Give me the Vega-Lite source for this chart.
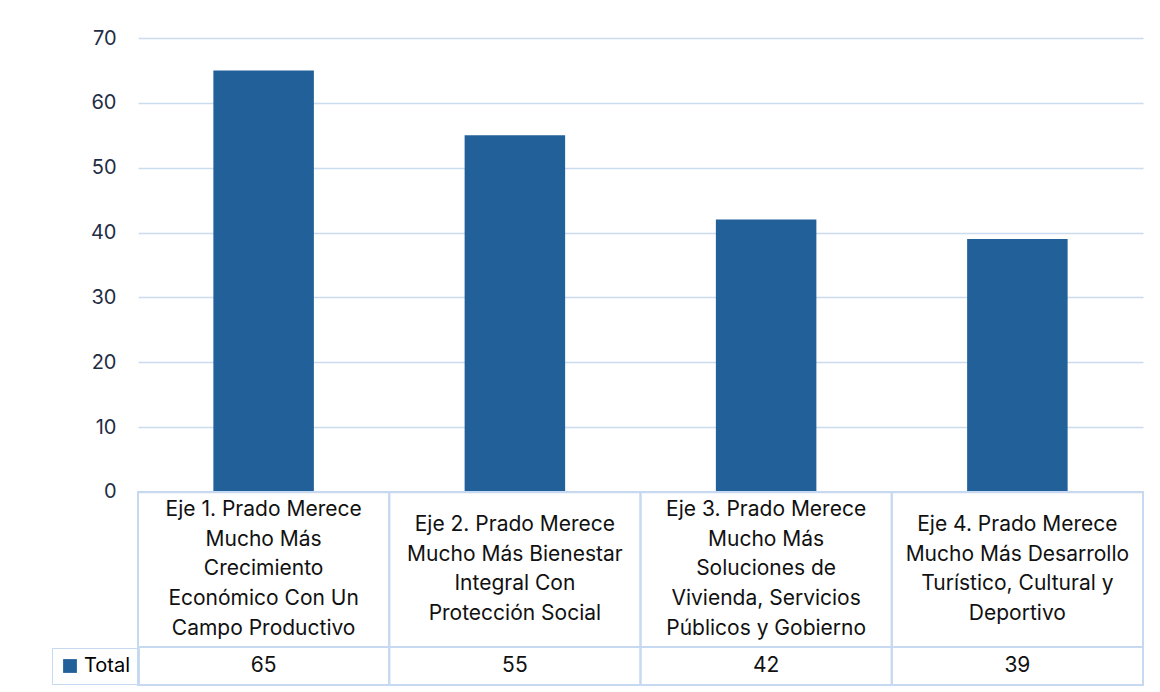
{
  "$schema": "https://vega.github.io/schema/vega-lite/v6.json",
  "width": 1005,
  "height": 647,
  "autosize": {"type": "none"},
  "padding": {"left": 138, "top": 38, "right": 17, "bottom": 7},
  "background": "white",
  "config": {"view": {"stroke": null}, "font": "Inter"},
  "data": {"values": [
    {"label": "Eje 1. Prado Merece\nMucho Más\nCrecimiento\nEconómico Con Un\nCampo Productivo", "nlines": 5, "total": 65, "series": "Total"},
    {"label": "Eje 2. Prado Merece\nMucho Más Bienestar\nIntegral Con\nProtección Social", "nlines": 4, "total": 55, "series": "Total"},
    {"label": "Eje 3. Prado Merece\nMucho Más\nSoluciones de\nVivienda, Servicios\nPúblicos y Gobierno", "nlines": 5, "total": 42, "series": "Total"},
    {"label": "Eje 4. Prado Merece\nMucho Más Desarrollo\nTurístico, Cultural y\nDeportivo", "nlines": 4, "total": 39, "series": "Total"}
  ]},
  "encoding": {
    "x": {"field": "label", "type": "nominal", "sort": null, "scale": {"paddingInner": 0, "paddingOuter": 0}, "axis": null}
  },
  "layer": [
    {
      "mark": {"type": "bar", "width": {"band": 0.4}},
      "encoding": {
        "y": {"field": "total", "type": "quantitative",
          "scale": {"domain": [-29.76, 70], "nice": false, "zero": false},
          "axis": {"values": [0, 10, 20, 30, 40, 50, 60, 70], "grid": true, "gridColor": "#cadcf0", "gridWidth": 1.5,
            "domain": false, "ticks": false, "labelPadding": 22, "labelFontSize": 20, "labelColor": "#1f2d45", "title": null, "labelFont": "Inter"}},
        "color": {"field": "series", "type": "nominal", "scale": {"range": ["#22609a"]},
          "legend": {"orient": "none", "legendX": -86, "legendY": 610, "title": null, "symbolType": "square", "symbolSize": 190,
            "symbolStrokeWidth": 0, "labelFontSize": 20, "labelColor": "#000000", "labelOffset": 4, "padding": 8, "strokeColor": "#c6d9f0", "labelFont": "Inter"}}
      }
    },
    {
      "mark": {"type": "rect", "fill": "transparent", "stroke": "#c6d9f0", "strokeWidth": 2},
      "encoding": {"y": {"datum": 0}, "y2": {"datum": -23.9}}
    },
    {
      "mark": {"type": "rect", "fill": "transparent", "stroke": "#c6d9f0", "strokeWidth": 2},
      "encoding": {"y": {"datum": -23.9}, "y2": {"datum": -29.76}}
    },
    {
      "transform": [{"filter": "datum.nlines == 5"}],
      "mark": {"type": "text", "lineBreak": "\n", "lineHeight": 29.6, "fontSize": 21, "color": "#111111", "baseline": "middle", "align": "center", "dy": -59.2},
      "encoding": {"y": {"datum": -11.95}, "text": {"field": "label"}}
    },
    {
      "transform": [{"filter": "datum.nlines == 4"}],
      "mark": {"type": "text", "lineBreak": "\n", "lineHeight": 29.6, "fontSize": 21, "color": "#111111", "baseline": "middle", "align": "center", "dy": -44.4},
      "encoding": {"y": {"datum": -11.95}, "text": {"field": "label"}}
    },
    {
      "mark": {"type": "text", "fontSize": 21, "color": "#111111", "baseline": "middle", "align": "center"},
      "encoding": {"y": {"datum": -26.83}, "text": {"field": "total", "type": "quantitative"}}
    }
  ]
}
